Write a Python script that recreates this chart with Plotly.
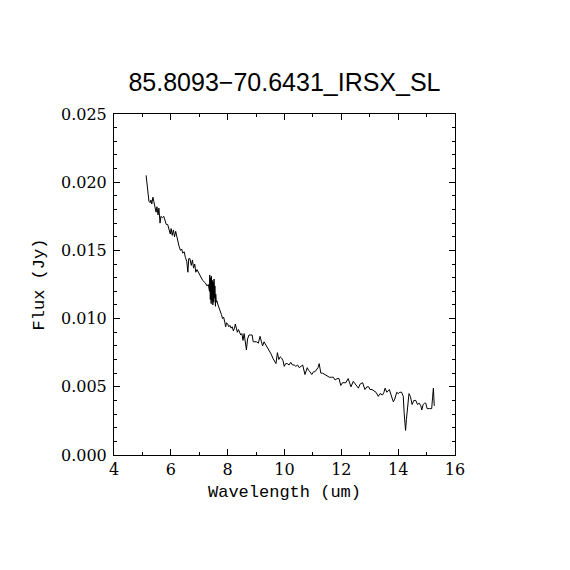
import plotly.graph_objects as go

wavelength = [
    5.13, 5.16, 5.20, 5.23, 5.27, 5.30, 5.33, 5.37, 5.40, 5.44, 5.48, 5.51, 5.55, 5.58, 5.62, 5.65,
    5.70, 5.75, 5.79, 5.84, 5.89, 5.94, 5.98, 6.01, 6.05, 6.09, 6.13, 6.17, 6.21, 6.25, 6.29, 6.34,
    6.38, 6.42, 6.47, 6.51, 6.56, 6.60, 6.63, 6.67, 6.72, 6.76, 6.80, 6.84, 6.88, 6.92, 6.97, 7.02,
    7.07, 7.12, 7.17, 7.22, 7.27, 7.32,
    7.36, 7.37, 7.39, 7.40, 7.42, 7.43, 7.45, 7.46, 7.48, 7.49, 7.51, 7.52, 7.54, 7.55, 7.57, 7.58,
    7.60, 7.62,
    7.66, 7.70, 7.74, 7.78, 7.82, 7.86, 7.90, 7.93, 7.96, 8.00, 8.04, 8.08, 8.12, 8.16, 8.20, 8.24,
    8.27, 8.30, 8.34, 8.38, 8.42, 8.46, 8.50, 8.54, 8.58, 8.62, 8.66, 8.70, 8.75, 8.80, 8.86, 8.90,
    8.96, 9.02, 9.08, 9.14, 9.19, 9.23, 9.28, 9.34, 9.40, 9.47, 9.53, 9.59, 9.64, 9.70, 9.75, 9.80,
    9.85, 9.90, 9.95, 9.99, 10.04, 10.10, 10.16, 10.22, 10.28, 10.34, 10.40, 10.46, 10.52, 10.58,
    10.64, 10.72, 10.80, 10.85, 10.90, 10.96, 11.02, 11.07, 11.13, 11.18, 11.22, 11.28, 11.34, 11.42,
    11.50, 11.58, 11.66, 11.72, 11.78, 11.85, 11.92, 11.98, 12.04, 12.10, 12.16, 12.24, 12.30, 12.34,
    12.42, 12.48, 12.54, 12.60, 12.66, 12.75, 12.83, 12.90, 12.96, 13.01, 13.08, 13.15, 13.22, 13.30,
    13.36, 13.45, 13.50, 13.54, 13.60, 13.65, 13.69, 13.75, 13.83, 13.88, 13.95, 14.00, 14.06, 14.12,
    14.18, 14.21, 14.26, 14.29, 14.33, 14.38, 14.43, 14.49, 14.55, 14.62, 14.68, 14.74, 14.80, 14.83,
    14.88, 14.93, 14.97, 15.02, 15.10, 15.18, 15.21, 15.24, 15.27,
]

flux = [
    0.0205, 0.0199, 0.0194, 0.0186, 0.0185, 0.0187, 0.0184, 0.0189, 0.0186, 0.0183, 0.0178, 0.0182,
    0.0176, 0.0181, 0.0170, 0.0175, 0.0174, 0.0175, 0.0172, 0.0169, 0.0169, 0.0166, 0.0162, 0.0166,
    0.0161, 0.0165, 0.0160, 0.0164, 0.0160, 0.0158, 0.0153, 0.0150, 0.0151, 0.0148, 0.0149, 0.0145,
    0.0142, 0.0134, 0.0144, 0.0144, 0.0139, 0.0143, 0.0137, 0.0140, 0.0134, 0.0136, 0.0134, 0.0131,
    0.0130, 0.0128, 0.0127, 0.0126, 0.0124, 0.0125,
    0.0120, 0.0132, 0.0114, 0.0130, 0.0111, 0.0131, 0.0113, 0.0128, 0.0110, 0.0127, 0.0112, 0.0129,
    0.0115, 0.0124, 0.0109, 0.0118, 0.0112, 0.0113,
    0.0110, 0.0108, 0.0105, 0.0103, 0.0100, 0.0101, 0.0097, 0.0094, 0.0097, 0.0096, 0.0094, 0.0095,
    0.0093, 0.0094, 0.0091, 0.0093, 0.0096, 0.0092, 0.0090, 0.0092, 0.0089, 0.0088, 0.0089, 0.0084,
    0.0089, 0.0083, 0.0077, 0.0085, 0.0088, 0.0088, 0.0088, 0.0083, 0.0083, 0.0083, 0.0082, 0.0087,
    0.0083, 0.0080, 0.0083, 0.0081, 0.0079, 0.0077, 0.0074, 0.0071, 0.0069, 0.0067, 0.0075, 0.0070,
    0.0072, 0.0071, 0.0069, 0.0065, 0.0067, 0.0067, 0.0066, 0.0068, 0.0066, 0.0066, 0.0065, 0.0066,
    0.0064, 0.0065, 0.0066, 0.0059, 0.0064, 0.0062, 0.0061, 0.0059, 0.0061, 0.0061, 0.0063, 0.0064,
    0.0067, 0.0060, 0.0060, 0.0059, 0.0058, 0.0057, 0.0057, 0.0057, 0.0055, 0.0056, 0.0056, 0.0051,
    0.0053, 0.0053, 0.0053, 0.0056, 0.0052, 0.0050, 0.0054, 0.0052, 0.0051, 0.0049, 0.0052, 0.0053,
    0.0048, 0.0050, 0.0050, 0.0048, 0.0048, 0.0047, 0.0046, 0.0043, 0.0045, 0.0044, 0.0046, 0.0049,
    0.0046, 0.0047, 0.0048, 0.0044, 0.0039, 0.0041, 0.0046, 0.0045, 0.0046, 0.0046, 0.0043, 0.0031,
    0.0018, 0.0026, 0.0033, 0.0045, 0.0043, 0.0037, 0.0040, 0.0040, 0.0037, 0.0038, 0.0036, 0.0033,
    0.0037, 0.0038, 0.0038, 0.0034, 0.0034, 0.0034, 0.0042, 0.0049, 0.0036,
]

title_text = "85.8093\u221270.6431_IRSX_SL"
x_title = "Wavelength (um)"
y_title = "Flux (Jy)"
x_ticks = [4, 6, 8, 10, 12, 14, 16]
y_ticks = [0.000, 0.005, 0.010, 0.015, 0.020, 0.025]

fig = go.Figure()
fig.add_trace(go.Scatter(
    x=wavelength, y=flux, mode="lines",
    line=dict(color="black", width=1),
    hoverinfo="skip", showlegend=False,
))

tick_font = dict(family="DejaVu Serif", size=16, color="black")
title_font = dict(family="Liberation Mono", size=17, color="black")

fig.update_layout(
    width=554, height=554,
    margin=dict(l=106, r=107, t=106, b=107),
    paper_bgcolor="white", plot_bgcolor="white",
    title=dict(text=title_text, x=0.5, xanchor="center", xref="paper",
               y=1.0, yref="paper", yanchor="bottom", pad=dict(b=23),
               font=dict(family="Liberation Sans", size=25, color="black")),
)
fig.update_xaxes(
    range=[4, 16], tickvals=x_ticks, ticktext=[str(v) for v in x_ticks],
    ticks="inside", ticklen=6, tickwidth=1, tickcolor="black",
    minor=dict(dtick=1, tick0=0, ticks="inside", ticklen=3, tickcolor="black", showgrid=False),
    showline=True, linecolor="black", linewidth=1, mirror="ticks",
    showgrid=False, zeroline=False, tickfont=tick_font,
    title=dict(text=x_title, font=title_font, standoff=6),
)
fig.update_yaxes(
    range=[0, 0.025], tickvals=y_ticks, ticktext=["%.3f" % v for v in y_ticks],
    ticks="inside", ticklen=6, tickwidth=1, tickcolor="black",
    minor=dict(dtick=0.001, tick0=0, ticks="inside", ticklen=3, tickcolor="black", showgrid=False),
    showline=True, linecolor="black", linewidth=1, mirror="ticks",
    showgrid=False, zeroline=False, tickfont=tick_font, ticklabelstandoff=3,
    title=dict(text=y_title, font=title_font, standoff=12),
)

fig.write_html("out.html")
